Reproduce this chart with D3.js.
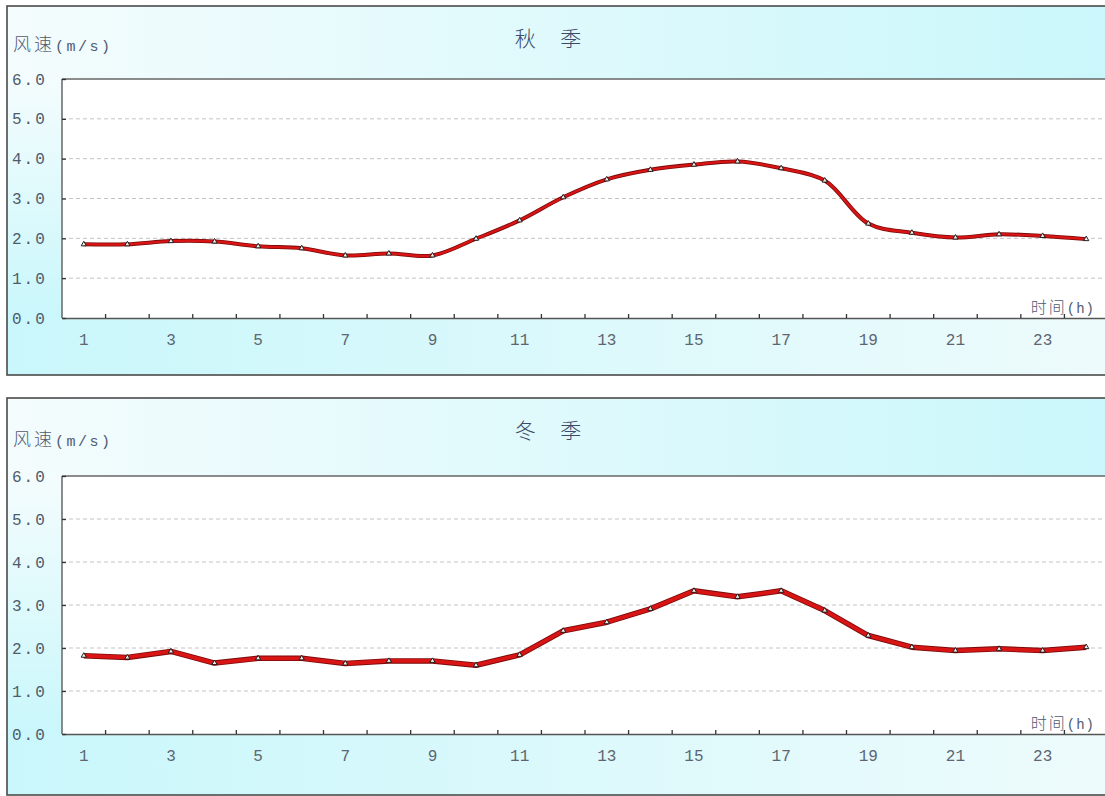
<!DOCTYPE html>
<html><head><meta charset="utf-8">
<script src="https://cdn.jsdelivr.net/npm/d3@7"></script>
<style>body{margin:0;background:#fff;overflow:hidden}svg{display:block}</style>
</head><body><svg id="c" width="1105" height="796"></svg>
<script>
const hours = d3.range(1, 25);
const hourLabels = ["1","3","5","7","9","11","13","15","17","19","21","23"];
const yTicks = [0,1,2,3,4,5,6];
const autumnTitle = "秋 季";
const winterTitle = "冬 季";
const yAxisTitleCn = "风速";
const yAxisTitleUnit = "(m/s)";
const xAxisTitleCn = "时间";
const xAxisTitleUnit = "(h)";
const autumnValues = [1.85,1.85,1.93,1.92,1.80,1.75,1.57,1.62,1.57,1.99,2.45,3.03,3.48,3.72,3.85,3.93,3.76,3.45,2.37,2.14,2.02,2.10,2.06,1.98];
const winterValues = [1.82,1.78,1.92,1.65,1.76,1.76,1.64,1.70,1.70,1.60,1.84,2.40,2.60,2.91,3.33,3.19,3.33,2.87,2.29,2.02,1.94,1.98,1.94,2.02];

const svg = d3.select("#c");
const defs = svg.append("defs");
function grad(id, x1, y1, x2, y2, c1, c2){
  const g = defs.append("linearGradient").attr("id", id)
    .attr("x1", x1).attr("y1", y1).attr("x2", x2).attr("y2", y2);
  g.append("stop").attr("offset","0%").attr("stop-color", c1);
  g.append("stop").attr("offset","100%").attr("stop-color", c2);
}
const CY = "#c9f7fb", WH = "#f4fcfd";
grad("gTop", "0%","0%","100%","0%", WH, CY);
grad("gBot", "0%","0%","100%","0%", CY, "#eefbfc");
grad("gLeft", "0%","0%","0%","100%", WH, CY);

const MONO = "Liberation Mono, DejaVu Sans Mono, monospace";
const CJK = "Noto Sans CJK SC";

function panel(cfg){
  const g = svg.append("g");
  const {top, bottom, pTop, pBot, values, title, smooth, wOuter, wInner} = cfg;
  const left = 7, right = 1130, pLeft = 62, pRight = 1108;
  g.append("rect").attr("x", left).attr("y", top).attr("width", right-left).attr("height", pTop-top).attr("fill","url(#gTop)");
  g.append("rect").attr("x", left).attr("y", pBot).attr("width", right-left).attr("height", bottom-pBot).attr("fill","url(#gBot)");
  g.append("rect").attr("x", left).attr("y", pTop).attr("width", pLeft-left).attr("height", pBot-pTop).attr("fill","url(#gLeft)");
  g.append("rect").attr("x", pLeft).attr("y", pTop).attr("width", pRight-pLeft).attr("height", pBot-pTop).attr("fill","#fff");
  g.append("rect").attr("x", left).attr("y", top).attr("width", right-left).attr("height", bottom-top)
    .attr("fill","none").attr("stroke","#4a4a4a").attr("stroke-width",1.6);

  const x = d3.scaleBand().domain(hours).range([pLeft, pRight]);
  const y = d3.scaleLinear().domain([0,6]).range([pBot, pTop]);

  g.append("g").selectAll("line").data(yTicks.filter(d => d>0 && d<6)).join("line")
    .attr("x1", pLeft).attr("x2", pRight).attr("y1", d=>y(d)).attr("y2", d=>y(d))
    .attr("stroke","#c4c4c4").attr("stroke-width",1).attr("stroke-dasharray","4,3");
  g.append("line").attr("x1",pLeft).attr("x2",pRight).attr("y1",pTop).attr("y2",pTop).attr("stroke","#666").attr("stroke-width",1.5);
  g.append("line").attr("x1",pLeft).attr("x2",pLeft).attr("y1",pTop).attr("y2",pBot).attr("stroke","#666").attr("stroke-width",1.5);

  const xAxis = d3.axisBottom(x).tickSize(0).tickPadding(cfg.xPad)
    .tickFormat(d => hourLabels.includes(String(d)) ? String(d) : "");
  const xa = g.append("g").attr("transform", `translate(0,${pBot})`).call(xAxis);
  xa.select(".domain").attr("stroke","#555").attr("stroke-width",1.6);
  xa.selectAll("text").attr("font-family", MONO)
    .attr("font-size",16).attr("fill","#5d6670").attr("dy","0.45em");
  g.append("g").selectAll("line").data(hours.slice(1)).join("line")
    .attr("x1", d => x(d)).attr("x2", d => x(d)).attr("y1", pBot).attr("y2", pBot-4)
    .attr("stroke","#333").attr("stroke-width",1.3);

  const ya = g.append("g").attr("transform", `translate(${pLeft},0)`)
    .call(d3.axisLeft(y).tickValues(yTicks).tickSize(-4).tickPadding(0).tickFormat(d3.format(".1f")));
  ya.select(".domain").remove();
  ya.selectAll(".tick line").attr("stroke","#333").attr("stroke-width",1.3);
  ya.selectAll("text").attr("text-anchor","start").attr("x", 12-pLeft)
    .attr("font-family", MONO).attr("font-size",16)
    .attr("letter-spacing", 2).attr("fill","#4e5c6c");

  g.append("text").attr("x", 548).attr("y", top + 31).attr("text-anchor","middle").attr("dominant-baseline","central")
    .attr("font-family", CJK).attr("font-size",21).attr("fill","#3c4968").attr("font-weight",300)
    .attr("letter-spacing", 10).attr("dx", 5).text(title);

  const yt = g.append("text").attr("x", 13).attr("y", cfg.ytY + 6).attr("fill","#4e5a70");
  yt.append("tspan").attr("font-family", CJK).attr("font-size",18).attr("font-weight",300).attr("letter-spacing",3).text(yAxisTitleCn);
  yt.append("tspan").attr("font-family", MONO).attr("font-size",15).attr("letter-spacing",2.5).text(yAxisTitleUnit);

  const xt = g.append("text").attr("x", 1095).attr("y", pBot - 5).attr("text-anchor","end").attr("fill","#4e5a70");
  xt.append("tspan").attr("font-family", CJK).attr("font-size",16).attr("font-weight",300).attr("letter-spacing",2).text(xAxisTitleCn);
  xt.append("tspan").attr("font-family", MONO).attr("font-size",14).attr("letter-spacing",1).text(xAxisTitleUnit);

  const cx = d => x(d) + x.bandwidth()/2;
  const line = d3.line().x((d,i) => cx(hours[i])).y(d => y(d))
    .curve(smooth ? d3.curveCatmullRom.alpha(0.5) : d3.curveLinear);
  g.append("path").datum(values).attr("d", line).attr("fill","none")
    .attr("stroke","#7a0a0a").attr("stroke-width", wOuter).attr("stroke-linejoin","round");
  g.append("path").datum(values).attr("d", line).attr("fill","none")
    .attr("stroke","#d81414").attr("stroke-width", wInner).attr("stroke-linejoin","round");
  g.append("g").selectAll("path").data(values).join("path")
    .attr("d", d3.symbol(d3.symbolTriangle).size(12))
    .attr("transform", (d,i) => `translate(${cx(hours[i])},${y(d)})`)
    .attr("fill","#eee").attr("stroke","#111").attr("stroke-width",0.9);
}

panel({top:6, bottom:375, pTop:79, pBot:318, values:autumnValues, title:autumnTitle, smooth:true, wOuter:4, wInner:2.4, ytY:45, xPad:20});
panel({top:398, bottom:795, pTop:476, pBot:734, values:winterValues, title:winterTitle, smooth:false, wOuter:5.5, wInner:3.8, ytY:440, xPad:20});
</script></body></html>
